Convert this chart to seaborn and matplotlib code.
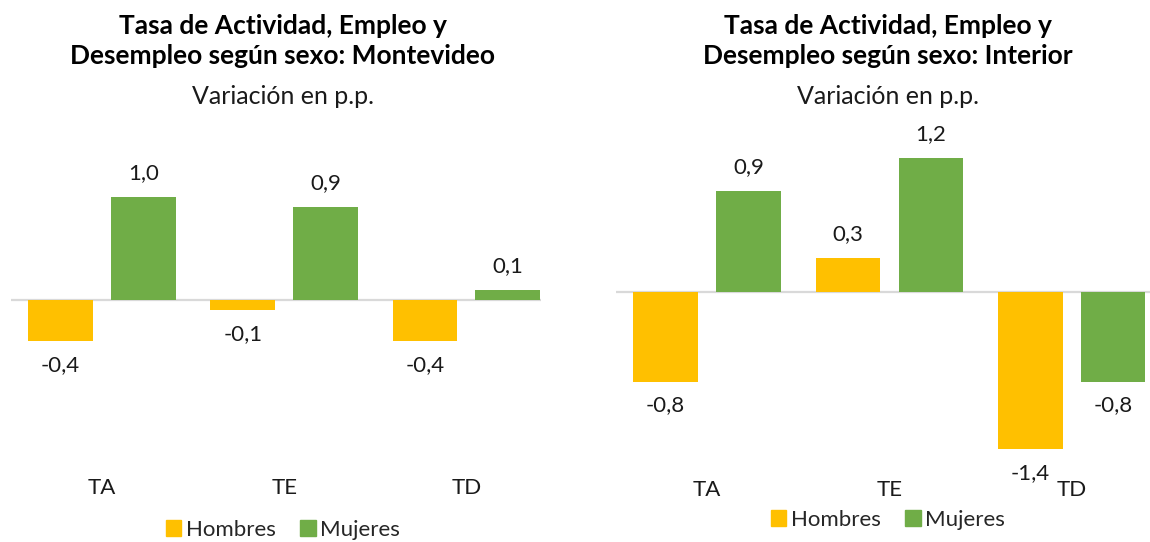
import seaborn as sns
import pandas as pd
import matplotlib.pyplot as plt

# datos
categorias = ['TA', 'TE', 'TD']
sexos = ['Hombres', 'Mujeres']
mvd_hombres = [-0.4, -0.1, -0.4]
mvd_mujeres = [1.0, 0.9, 0.1]
int_hombres = [-0.8, 0.3, -1.4]
int_mujeres = [0.9, 1.2, -0.8]
titulos = ['Tasa de Actividad, Empleo y\nDesempleo según sexo: Montevideo',
           'Tasa de Actividad, Empleo y\nDesempleo según sexo: Interior']
subtitulo = 'Variación en p.p.'

colores = {'Hombres': '#FFC000', 'Mujeres': '#70AD47'}

sns.set_theme(style='white')
plt.rcParams['font.family'] = ['Lato', 'DejaVu Sans']

W, H = 1150, 542
fig = plt.figure(figsize=(W / 100, H / 100), dpi=100)


def px_axes(x0, x1, y0, y1):
    # caja en pixeles (y desde arriba) -> fraccion de figura
    return fig.add_axes([x0 / W, 1 - y1 / H, (x1 - x0) / W, (y1 - y0) / H])


def tabla(hombres, mujeres):
    filas = []
    for c, h, m in zip(categorias, hombres, mujeres):
        filas.append({'cat': c, 'sexo': 'Hombres', 'valor': h})
        filas.append({'cat': c, 'sexo': 'Mujeres', 'valor': m})
    return pd.DataFrame(filas)


paneles = [
    # datos, caja ejes, ylim, xlim, pad ticks, centro titulo, y legenda
    (tabla(mvd_hombres, mvd_mujeres), (11, 541, 145.5, 444.2), (-1.4, 1.5), (-0.5, 2.41), 24, 283, 530),
    (tabla(int_hombres, int_mujeres), (616, 1150, 146.4, 471.2), (-1.6, 1.3), (-0.5, 2.43), 6, 888, 520),
]

for i, (df, caja, ylim, xlim, pad, xc, yleg) in enumerate(paneles):
    ax = px_axes(*caja)
    sns.barplot(data=df, x='cat', y='valor', hue='sexo', hue_order=sexos, palette=colores,
                saturation=1, width=0.91, gap=0.22, linewidth=0, ax=ax, legend=False)
    ax.axhline(0, color='#D9D9D9', linewidth=1.6, zorder=0)
    ax.set_ylim(*ylim)
    ax.set_xlim(*xlim)
    for cont in ax.containers:
        vals = cont.datavalues
        ax.bar_label(cont, labels=[f'{v:.1f}'.replace('.', ',') for v in vals],
                     padding=10, fontsize=16, color='#1a1a1a')
    ax.set_xlabel('')
    ax.set_ylabel('')
    ax.set_yticks([])
    ax.tick_params(axis='x', length=0, pad=pad, labelsize=16, labelcolor='#1a1a1a')
    sns.despine(ax=ax, left=True, bottom=True)

    fig.text(xc / W, 1 - 41 / H, titulos[i], ha='center', va='center', fontsize=19,
             fontweight='bold', linespacing=1.3, color='black')
    fig.text(xc / W, 1 - 96 / H, subtitulo, ha='center', va='center', fontsize=18, color='#1a1a1a')

    handles = [plt.Rectangle((0, 0), 1, 1, color=colores[s]) for s in sexos]
    fig.legend(handles, sexos, loc='center', bbox_to_anchor=(xc / W, 1 - yleg / H), ncol=2,
               frameon=False, fontsize=16, handlelength=0.7, handleheight=0.7,
               handletextpad=0.2, columnspacing=1.1)

fig.savefig('out.png', dpi=100, facecolor='white')
